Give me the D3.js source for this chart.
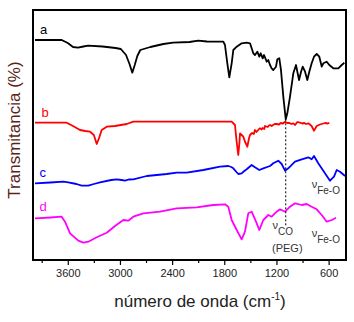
<!DOCTYPE html>
<html>
<head>
<meta charset="utf-8">
<script src="https://cdn.jsdelivr.net/npm/d3@7"></script>
<style>
  html, body { margin: 0; padding: 0; background: #fff; }
  svg { display: block; }
  text { font-family: Arial, "Liberation Sans", sans-serif; }
</style>
</head>
<body>
<svg id="chart" width="354" height="322"></svg>
<script>
// ---- data (wavenumber cm-1, transmittance in arbitrary offset units) ----
const seriesNames = ["a", "b", "c", "d"];
const seriesColors = ["#000000", "#ff0000", "#0000ff", "#ff00ff"];

const spectrumA = [
  [3977,220],[3800,220],[3670,220],[3600,217],[3540,213],[3482,212.3],[3420,213.5],[3367,214.3],
  [3200,213.5],[3050,212],[2990,211],[2930,205],[2890,196],[2858,187.3],[2830,195],[2800,204],
  [2766,210],[2650,213],[2500,216],[2390,217.3],[2200,218],[2100,219.3],[2000,218.5],[1850,218.3],
  [1811,218.3],[1792,215],[1765,196.7],[1742,182.7],[1715,196.7],[1696,210],[1657,213.3],[1600,216.7],
  [1542,217.3],[1504,216.7],[1466,206.7],[1447,205],[1420,208.3],[1397,203.3],[1381,206.7],[1358,201.7],
  [1343,205],[1312,198.3],[1294,200],[1274,195],[1255,191.7],[1236,190],[1205,193.3],[1190,200.7],
  [1167,201.7],[1148,190],[1121,163.3],[1093,140.7],[1075,146.7],[1044,163.3],[1006,186.7],[975,195],
  [956,186.7],[940,180],[917,188.3],[898,193.3],[871,188.3],[845,180],[822,188.3],[795,196.7],
  [768,203.3],[737,206],[707,203.3],[679,193.3],[661,196.7],[622,198.3],[592,195],[546,191.7],
  [488,191.7],[449,195],[419,197.3]
];

const spectrumB = [
  [3977,137.3],[3800,137.3],[3612,137.3],[3540,134],[3459,130],[3400,129],[3344,128.3],[3300,125],
  [3267,116],[3240,122],[3210,130],[3152,133.3],[3057,134],[2922,136],[2846,138.3],[2500,138.3],
  [2000,138.3],[1715,138.3],[1677,135],[1660,120],[1639,105],[1625,118],[1619,126.7],[1600,125],
  [1581,123.3],[1560,118],[1535,113.3],[1515,122],[1504,125],[1480,127],[1460,126],[1447,130],
  [1430,128],[1420,129],[1400,131],[1389,131.7],[1370,130.5],[1360,132],[1340,131],[1332,134],
  [1300,133],[1285,134.5],[1274,135],[1255,134],[1240,135],[1220,136],[1197,136],[1170,135.5],
  [1150,137],[1125,136.5],[1101,138.3],[1075,137],[1050,137],[1030,136],[1006,136.7],[985,135],
  [960,138],[929,137.3],[905,136.5],[880,137],[860,136],[834,136.7],[795,134],[769,129.3],
  [750,132],[737,134],[700,135.5],[679,136],[640,137],[610,136.5],[592,137.3]
];

const spectrumC = [
  [3977,76.7],[3800,77.5],[3651,78.3],[3594,77.7],[3500,76],[3440,74.3],[3364,74.3],[3300,76],
  [3229,77.7],[3100,80],[3037,80.7],[2980,80],[2942,79.3],[2900,80.5],[2846,80.7],[2692,84],
  [2462,86],[2347,87.3],[2232,87.3],[2041,90],[1849,93.3],[1754,94],[1720,93],[1696,91.7],
  [1660,88],[1639,86],[1600,86.7],[1570,89],[1542,90.7],[1485,95],[1447,92.7],[1397,90],
  [1351,91.7],[1274,94],[1236,96.7],[1179,99.3],[1140,96],[1101,89.3],[1064,91.7],[987,98.3],
  [909,100.7],[834,102.7],[795,100.7],[768,104],[719,96.7],[661,89.3],[584,79.3],[538,83.3],
  [507,90],[469,88.3],[411,84]
];

const spectrumD = [
  [3977,41.7],[3800,42.5],[3670,43.3],[3632,38.3],[3574,26.7],[3479,19.3],[3421,17.3],[3364,18.3],
  [3267,22.7],[3152,27.3],[3057,34],[2961,40],[2904,39.3],[2846,43.3],[2731,46.7],[2539,48.3],
  [2347,51.7],[2117,52.7],[1926,55],[1792,55.7],[1754,53.3],[1715,40],[1657,30],[1600,20.7],
  [1562,28.3],[1524,46.7],[1485,48.3],[1435,38.3],[1397,30],[1351,40],[1294,45],[1255,43.3],
  [1197,48.3],[1159,50.7],[1101,48.3],[1052,52.7],[987,56.7],[909,55],[852,56],[795,53.3],
  [737,50.7],[679,45],[622,38.3],[564,40],[515,42.3]
];

const majorTicks = [3600, 3000, 2400, 1800, 1200, 600];
const minorTicks = [3900, 3300, 2700, 2100, 1500, 900];

// ---- layout ----
const svg = d3.select("#chart");
const pL = 33, pR = 346, pT = 10, pB = 260;

const x = d3.scaleLinear().domain([4000, 400]).range([pL, pR]);
const y = d3.scaleLinear().domain([0, 250]).range([pB, pT]);

const line = d3.line().x(d => x(d[0])).y(d => y(d[1]));

const spectra = [spectrumA, spectrumB, spectrumC, spectrumD];
spectra.forEach((s, i) => {
  svg.append("path")
    .datum(s)
    .attr("d", line)
    .attr("fill", "none")
    .attr("stroke", seriesColors[i])
    .attr("stroke-width", 1.8)
    .attr("stroke-linejoin", "round");
});

// dotted marker at PEG C-O stretch
svg.append("line")
  .attr("x1", x(1093)).attr("x2", x(1093))
  .attr("y1", y(140.7)).attr("y2", y(34))
  .attr("stroke", "#000").attr("stroke-width", 1)
  .attr("stroke-dasharray", "2,2");

// frame
svg.append("rect")
  .attr("x", pL).attr("y", pT)
  .attr("width", pR - pL).attr("height", pB - pT)
  .attr("fill", "none").attr("stroke", "#000").attr("stroke-width", 2);

// bottom axis
const axis = d3.axisBottom(x).tickValues(majorTicks).tickSize(5).tickPadding(4).tickFormat(d3.format("d"));
const gAxis = svg.append("g").attr("transform", `translate(0,${pB})`).call(axis);
gAxis.select(".domain").remove();
gAxis.selectAll("line").attr("stroke", "#000").attr("stroke-width", 1.2);
gAxis.selectAll("text").attr("font-size", 11).attr("fill", "#222")
  .attr("font-family", "Arial, 'Liberation Sans', sans-serif");
const gMinor = svg.append("g").attr("transform", `translate(0,${pB})`)
  .call(d3.axisBottom(x).tickValues(minorTicks).tickSize(3).tickFormat(""));
gMinor.select(".domain").remove();
gMinor.selectAll("line").attr("stroke", "#000").attr("stroke-width", 1.2);

// axis titles
const xt = svg.append("text")
  .attr("x", 200).attr("y", 307)
  .attr("text-anchor", "middle").attr("font-size", 17).attr("fill", "#222");
xt.append("tspan").text("número de onda (cm");
xt.append("tspan").attr("font-size", 10).attr("dy", -7).text("-1");
xt.append("tspan").attr("dy", 7).text(")");

svg.append("text")
  .attr("transform", "translate(20,130) rotate(-90)")
  .attr("text-anchor", "middle").attr("font-size", 17).attr("fill", "#5a2318")
  .text("Transmitancia (%)");

// series letters
const letterPos = [[40, 34], [41.5, 116.7], [39.5, 176.7], [39.5, 210.7]];
seriesNames.forEach((n, i) => {
  svg.append("text")
    .attr("x", letterPos[i][0]).attr("y", letterPos[i][1])
    .attr("font-size", 13).attr("fill", seriesColors[i]).text(n);
});

// annotations
function nuLabel(xp, yp, sub) {
  const t = svg.append("text").attr("x", xp).attr("y", yp)
    .attr("font-size", 11).attr("fill", "#333");
  t.append("tspan").text("ν");
  t.append("tspan").attr("font-size", 10).attr("dy", 6).text(sub);
  return t;
}
nuLabel(x(795), y(71.7), "Fe-O");
nuLabel(x(795), y(23.3), "Fe-O");
nuLabel(x(1245), y(30.7), "CO");
svg.append("text").attr("x", x(1075)).attr("y", y(8.5))
  .attr("text-anchor", "middle").attr("font-size", 11).attr("fill", "#333").text("(PEG)");
</script>
</body>
</html>
